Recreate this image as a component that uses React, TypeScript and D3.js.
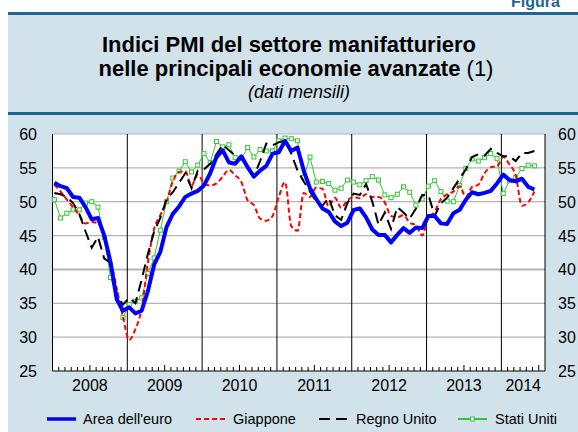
import React from "react";
import * as d3 from "d3";

// monthly values, Jan 2008 - Jun 2014
const euroArea = [
  52.8, 52.3, 52.0, 50.7, 50.6, 49.2, 47.4, 47.6, 45.0, 41.1, 35.6, 33.9,
  34.4, 33.5, 33.9, 36.8, 40.7, 42.6, 46.3, 48.2, 49.3, 50.7, 51.2, 51.6,
  52.4, 54.2, 56.6, 57.6, 55.8, 55.6, 56.7, 55.1, 53.7, 54.6, 55.3, 57.1,
  57.3, 59.0, 57.5, 58.0, 54.6, 52.0, 50.4, 49.0, 48.5, 47.1, 46.4, 46.9,
  48.8, 49.0, 47.7, 45.9, 45.1, 45.1, 44.0, 45.1, 46.1, 45.4, 46.2, 46.1,
  47.9, 47.9, 46.8, 46.7, 48.3, 48.8, 50.3, 51.4, 51.1, 51.3, 51.6, 52.7,
  54.0, 53.2, 53.0, 53.4, 52.2, 51.8,
];
const japan = [
  52.5, 51.5, 50.3, 49.2, 48.0, 46.8, 47.0, 46.8, 44.8, 41.5, 37.2, 33.0,
  29.6, 31.2, 34.2, 41.0, 46.0, 48.0, 50.0, 53.0, 54.4, 54.5, 52.4, 54.0,
  52.7, 52.4, 52.7, 53.7, 54.7, 53.9, 52.9, 50.2, 49.5, 47.5, 47.2, 47.9,
  50.7, 52.9, 46.4, 45.7, 51.3, 50.7, 52.1, 51.9, 49.3, 50.6, 49.1, 50.2,
  50.7, 50.5, 51.1, 50.7, 50.7, 49.9, 47.9, 47.7, 48.0, 46.9, 46.5, 45.0,
  47.7, 48.5, 50.4, 51.1, 51.5, 52.3, 50.7, 52.2, 52.5, 54.2, 55.1, 55.2,
  56.6, 55.5, 53.9, 49.4, 49.9, 51.5,
];
const unitedKingdom = [
  51.3, 51.1, 50.7, 49.8, 48.2, 45.6, 43.2, 44.8, 41.6, 41.0, 36.2, 34.8,
  35.8, 35.0, 38.5, 42.3, 45.6, 47.6, 50.4, 51.4, 52.8, 54.2, 52.0, 54.6,
  54.8, 55.6, 57.0, 58.4, 57.6, 56.8, 56.4, 55.0, 53.7, 56.0, 58.6, 58.3,
  58.8, 59.0, 57.1, 54.6, 53.0, 51.5, 50.0, 49.4, 50.6, 48.0, 47.3, 49.8,
  51.2, 51.0, 52.6, 50.0, 46.6, 48.4, 46.0, 49.2, 48.4, 47.5, 49.0, 51.0,
  51.0, 47.9, 49.8, 50.6, 52.0, 53.4, 54.8, 56.6, 57.0, 56.8, 57.8, 57.2,
  56.7, 56.7, 56.0, 57.2, 57.2, 57.5,
];
const unitedStates = [
  50.3, 47.6, 48.3, 48.8, 48.8, 49.8, 50.0, 49.2, 44.7, 38.8, 36.3, 32.9,
  34.8, 35.3, 35.8, 39.4, 41.7, 45.8, 50.0, 53.5, 54.5, 55.9, 54.4, 55.4,
  57.1, 55.8, 58.9, 58.1, 58.4, 56.5, 56.4, 58.0, 56.6, 57.7, 57.5, 57.5,
  59.0, 59.4, 59.3, 59.0, 53.6, 56.6, 52.9, 53.0, 52.7, 51.7, 52.0, 53.2,
  52.9, 52.5, 53.1, 53.7, 53.2, 51.0, 50.6, 51.1, 52.2, 51.4, 49.5, 50.4,
  52.3, 53.1, 51.5, 50.1, 50.0, 52.4, 54.9, 56.3, 56.0, 56.5, 57.1, 56.4,
  51.2, 53.1, 53.6, 54.9, 55.4, 55.3,
];
const years = ["2008", "2009", "2010", "2011", "2012", "2013", "2014"];
const yTicks = [25, 30, 35, 40, 45, 50, 55, 60];

const W = 578;
const H = 432;
const BG = "#d1e2eb";
const RULE = "#1f6591";
const FONT = "'Liberation Sans', Arial, Helvetica, sans-serif";

const App = () => {
  const left = 52.5;
  const right = 545;
  const top = 134;
  const bottom = 371;
  const months = 79;

  const x = d3.scaleLinear().domain([0, months]).range([left, right]);
  const y = d3.scaleLinear().domain([25, 60]).range([bottom, top]);
  const px = (i) => x(i + 0.3);

  const line = d3
    .line()
    .x((d, i) => px(i))
    .y((d) => y(d));
  const smooth = d3
    .line()
    .x((d, i) => px(i))
    .y((d) => y(d))
    .curve(d3.curveMonotoneX);

  const series = [
    { name: "Area dell'euro", color: "#0000ff", width: 3.5, dash: null },
    { name: "Giappone", color: "#ff0000", width: 2, dash: "5,3" },
    { name: "Regno Unito", color: "#000000", width: 2, dash: "11,6" },
    { name: "Stati Uniti", color: "#33c633", width: 1, dash: null },
  ];
  const legendX = [47, 196, 319, 458];

  const monthTicks = d3.range(1, months).filter((k) => k % 12 !== 0);
  const yearBounds = d3.range(1, years.length).map((k) => k * 12);

  return (
    <svg
      width={W}
      height={H}
      style={{ position: "absolute", left: 0, top: 0, fontFamily: FONT }}
    >
      <rect x={0} y={0} width={W} height={H} fill="#ffffff" />
      <rect x={8} y={13} width={W - 8} height={H - 13} fill={BG} />
      <rect x={8} y={12} width={W - 8} height={3} fill={RULE} />
      <rect x={8} y={112} width={W - 8} height={3} fill={RULE} />
      <text x={511} y={7} fontSize={16} fontWeight="bold" fill={RULE}>
        Figura
      </text>

      <text x={289} y={52} textAnchor="middle" fontSize={22} fontWeight="bold">
        Indici PMI del settore manifatturiero
      </text>
      <text x={296} y={76} textAnchor="middle" fontSize={22}>
        <tspan fontWeight="bold">nelle principali economie avanzate </tspan>
        <tspan>(1)</tspan>
      </text>
      <text x={299} y={98} textAnchor="middle" fontSize={18} fontStyle="italic">
        (dati mensili)
      </text>

      {/* plot */}
      <rect x={left} y={top} width={right - left} height={bottom - top} fill="#ffffff" />
      {yTicks.slice(1).map((t) => (
        <line key={t} x1={left} x2={right} y1={y(t)} y2={y(t)} stroke="#b4b4b4" strokeWidth={t === 40 ? 2 : 1.2} />
      ))}
      {yearBounds.map((m) => (
        <line key={m} x1={x(m)} x2={x(m)} y1={top} y2={bottom} stroke="#000" strokeWidth={1} />
      ))}
      {monthTicks.map((m) => (
        <line key={m} x1={x(m)} x2={x(m)} y1={bottom} y2={bottom - (m % 12 === 6 ? 6 : 4)} stroke="#000" strokeWidth={1} />
      ))}
      <line x1={left} x2={left} y1={top} y2={bottom} stroke="#000" />
      <line x1={right} x2={right} y1={top} y2={bottom} stroke="#000" />
      <line x1={left} x2={right} y1={bottom} y2={bottom} stroke="#000" />

      {yTicks.map((t) => (
        <g key={t} fontSize={16}>
          <text x={37} y={y(t) + 6} textAnchor="end">{t}</text>
          <text x={558} y={y(t) + 6}>{t}</text>
        </g>
      ))}
      {years.map((yr, k) => (
        <text
          key={yr}
          x={(x(k * 12) + x(Math.min((k + 1) * 12, months))) / 2}
          y={391}
          textAnchor="middle"
          fontSize={16}
        >
          {yr}
        </text>
      ))}

      <path d={line(unitedStates)} fill="none" stroke={series[3].color} strokeWidth={1} />
      {unitedStates.map((d, i) => (
        <rect key={i} x={px(i) - 2} y={y(d) - 2} width={4} height={4} fill="#fff" stroke={series[3].color} strokeWidth={1} />
      ))}
      <path d={smooth(japan)} fill="none" stroke={series[1].color} strokeWidth={2} strokeDasharray="5,3" />
      <path d={line(unitedKingdom)} fill="none" stroke="#000" strokeWidth={2} strokeDasharray="11,6" />
      <path d={line(euroArea)} fill="none" stroke={series[0].color} strokeWidth={4} strokeLinejoin="round" />

      {series.map((s, k) => (
        <g key={s.name} transform={`translate(${legendX[k]},419)`}>
          <line x1={0} x2={29} y1={0} y2={0} stroke={s.color} strokeWidth={s.width === 3.5 ? 3.5 : 2} strokeDasharray={s.dash || undefined} />
          {k === 3 && <rect x={12.5} y={-2} width={4} height={4} fill="#fff" stroke={s.color} />}
          <text x={k === 0 ? 36 : 37} y={5} fontSize={14.5}>
            {s.name}
          </text>
        </g>
      ))}
    </svg>
  );
};

export default App;
